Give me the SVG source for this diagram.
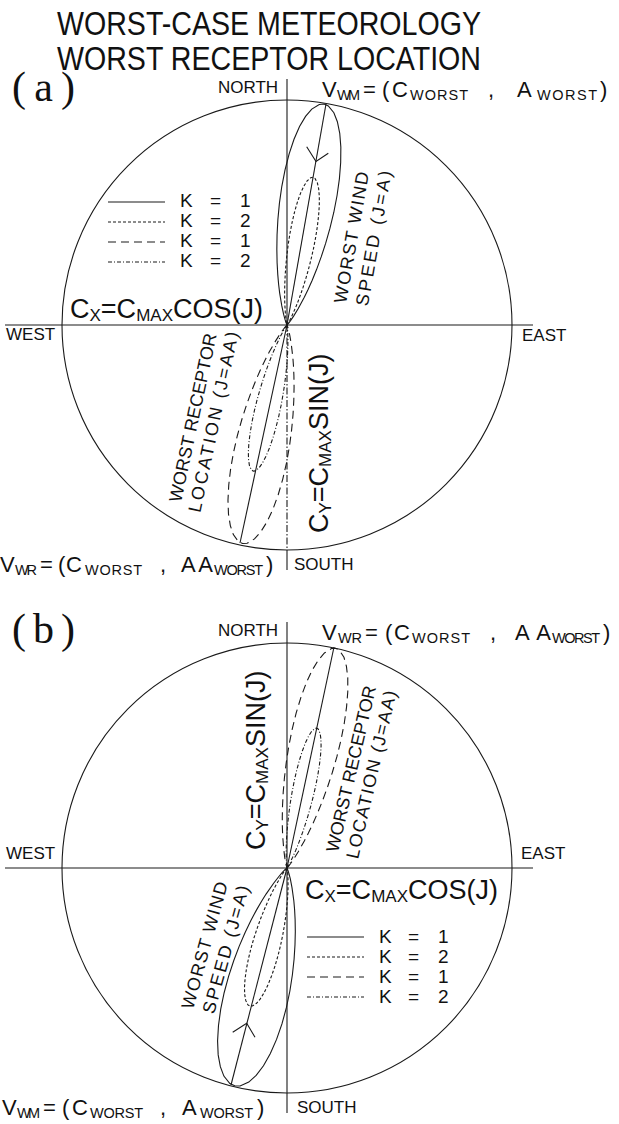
<svg xmlns="http://www.w3.org/2000/svg" width="619" height="1124" viewBox="0 0 619 1124">
<style>
.ln{stroke:#1a1a1a;stroke-width:1.1;fill:none}
.lobe{stroke:#1a1a1a;stroke-width:1.1;fill:none}
.k2w{stroke-dasharray:3 2}
.k1r{stroke-dasharray:8 5}
.k2r{stroke-dasharray:4 2 1 2}
.ax2{stroke-dasharray:7 2 1.5 2}
.t{font-family:"Liberation Sans",Arial,sans-serif;fill:#111}
.ttl{font-size:33.5px}
.pl{font-family:"Liberation Serif","Times New Roman",serif;font-size:42px;fill:#111}
.lbl{font-size:17px}
.rl{font-size:18px}
.big{font-size:27px}
.bs{font-size:17px}
.v{font-size:22px}
.vs{font-size:14.5px}
.lg{font-size:19px}
</style>
<defs>
<path id="lobe" vector-effect="non-scaling-stroke" d="M0,0 L5.5,-1.1 L10.3,-2.3 L18.1,-4.4 L29.5,-8 L44.6,-13.5 L53.3,-17.2 L62.4,-21.6 L71.6,-26.7 L80.3,-32.5 L88.1,-38.9 L94.3,-45.8 L98.5,-53.1 L100,-60.7 L98.4,-68.2 L93.3,-75.5 L84.8,-82.3 L72.8,-88.3 L57.6,-93.2 L40,-96.9 L16.4,-99.5 L0,-100 L-16.4,-99.5 L-40,-96.9 L-57.6,-93.2 L-72.8,-88.3 L-84.8,-82.3 L-93.3,-75.5 L-98.4,-68.2 L-100,-60.7 L-98.5,-53.1 L-94.3,-45.8 L-88.1,-38.9 L-80.3,-32.5 L-71.6,-26.7 L-62.4,-21.6 L-53.3,-17.2 L-44.6,-13.5 L-29.5,-8 L-18.1,-4.4 L-10.3,-2.3 L-5.5,-1.1 Z"/>
</defs>

<g id="title">
<text class="t ttl" x="57" y="35" textLength="424" lengthAdjust="spacingAndGlyphs">WORST-CASE METEOROLOGY</text>
<text class="t ttl" x="57" y="70" textLength="424" lengthAdjust="spacingAndGlyphs">WORST RECEPTOR LOCATION</text>
</g>

<g id="panel-a">
<text class="pl" x="12" y="101" textLength="63" lengthAdjust="spacing">(a)</text>
<g id="a-frame">
<circle class="ln" cx="287" cy="325" r="225"/>
<line class="ln" x1="5" y1="325" x2="533" y2="325"/>
<line class="ln" x1="287" y1="79" x2="287" y2="325"/>
<line class="ln ax2" x1="287" y1="325" x2="287" y2="550"/>
<line class="ln" x1="287" y1="550" x2="287" y2="570"/>
</g>
<g id="a-connectors">
<use href="#lobe" class="lobe" transform="translate(287,325) rotate(9.5) scale(0.28,2.24)"/>
<use href="#lobe" class="lobe k2w" transform="translate(287,325) rotate(10) scale(0.13,1.5)"/>
<use href="#lobe" class="lobe k1r" transform="translate(287,325) rotate(191.5) scale(0.27,2.23)"/>
<use href="#lobe" class="lobe k2r" transform="translate(287,325) rotate(193) scale(0.125,1.5)"/>
<line class="ln" x1="287" y1="325" x2="326" y2="104"/>
<line class="ln" x1="287" y1="325" x2="240" y2="543"/>
<polyline class="ln" points="306.7,146.7 316,161.5 328.3,153.3"/>
</g>
<g id="a-labels">
<text class="t lbl" x="218" y="93">NORTH</text>
<text class="t lbl" x="294" y="570">SOUTH</text>
<text class="t lbl" x="6" y="340">WEST</text>
<text class="t lbl" x="522" y="341">EAST</text>
<text class="t v"><tspan x="322" y="97">V</tspan><tspan class="vs" x="337" y="100" textLength="23">WM</tspan><tspan x="363" y="97">=</tspan><tspan x="382" y="97">(</tspan><tspan x="392" y="97">C</tspan><tspan class="vs" x="410" y="100" textLength="58">WORST</tspan><tspan x="488" y="97">,</tspan><tspan x="517" y="97">A</tspan><tspan class="vs" x="537" y="100" textLength="60">WORST</tspan><tspan x="600" y="97">)</tspan></text>
<text class="t v"><tspan x="0" y="572">V</tspan><tspan class="vs" x="15" y="575" textLength="22">WR</tspan><tspan x="40" y="572">=</tspan><tspan x="58" y="572">(</tspan><tspan x="66" y="572">C</tspan><tspan class="vs" x="85" y="575" textLength="57">WORST</tspan><tspan x="160" y="572">,</tspan><tspan x="181" y="572" textLength="32">AA</tspan><tspan class="vs" x="214" y="575" textLength="49">WORST</tspan><tspan x="266" y="572">)</tspan></text>
<text class="t big" x="70" y="318">C<tspan class="bs" dy="3">X</tspan><tspan dy="-3">=C</tspan><tspan class="bs" dy="3">MAX</tspan><tspan dy="-3">COS(J)</tspan></text>
<text class="t big" transform="translate(328,533) rotate(-90)" x="0" y="0">C<tspan class="bs" dy="3">Y</tspan><tspan dy="-3">=C</tspan><tspan class="bs" dy="3">MAX</tspan><tspan dy="-3">SIN(J)</tspan></text>
<g transform="translate(346,304) rotate(-80)">
<text class="t rl" x="0" y="0" textLength="133" lengthAdjust="spacing">WORST WIND</text>
<text class="t rl" x="1" y="22" textLength="137" lengthAdjust="spacing">SPEED (J=A)</text>
</g>
<g transform="translate(181,503) rotate(-78)">
<text class="t rl" x="0" y="0" textLength="172" lengthAdjust="spacing">WORST RECEPTOR</text>
<text class="t rl" x="-6" y="21" textLength="184" lengthAdjust="spacing">LOCATION (J=AA)</text>
</g>
</g>
<g id="a-legend">
<line class="ln" x1="108" y1="202" x2="165" y2="202"/>
<line class="ln k2w" x1="108" y1="222" x2="165" y2="222"/>
<line class="ln k1r" x1="108" y1="242" x2="165" y2="242"/>
<line class="ln k2r" x1="108" y1="262" x2="165" y2="262"/>
<text class="t lg"><tspan x="180" y="207">K</tspan><tspan x="210" y="207">=</tspan><tspan x="240" y="207">1</tspan></text>
<text class="t lg"><tspan x="180" y="227">K</tspan><tspan x="210" y="227">=</tspan><tspan x="240" y="227">2</tspan></text>
<text class="t lg"><tspan x="180" y="247">K</tspan><tspan x="210" y="247">=</tspan><tspan x="240" y="247">1</tspan></text>
<text class="t lg"><tspan x="180" y="267">K</tspan><tspan x="210" y="267">=</tspan><tspan x="240" y="267">2</tspan></text>
</g>
</g>

<g id="panel-b">
<text class="pl" x="12" y="643" textLength="63" lengthAdjust="spacing">(b)</text>
<g id="b-frame">
<circle class="ln" cx="287" cy="868" r="225"/>
<line class="ln" x1="5" y1="868" x2="533" y2="868"/>
<line class="ln" x1="287" y1="622" x2="287" y2="1113"/>
</g>
<g id="b-connectors">
<use href="#lobe" class="lobe k1r" transform="translate(287,868) rotate(12.5) scale(0.25,2.25)"/>
<use href="#lobe" class="lobe k2r" transform="translate(287,868) rotate(12) scale(0.11,1.43)"/>
<use href="#lobe" class="lobe" transform="translate(287,868) rotate(193.5) scale(0.32,2.24)"/>
<use href="#lobe" class="lobe k2w" transform="translate(287,868) rotate(195) scale(0.14,1.43)"/>
<line class="ln" x1="287" y1="868" x2="334" y2="647"/>
<line class="ln" x1="287" y1="868" x2="231" y2="1085"/>
<polyline class="ln" points="232.7,1032.3 246.7,1023.3 255,1037.3"/>
</g>
<g id="b-labels">
<text class="t lbl" x="218" y="636">NORTH</text>
<text class="t lbl" x="297" y="1113">SOUTH</text>
<text class="t lbl" x="6" y="859">WEST</text>
<text class="t lbl" x="521" y="859">EAST</text>
<text class="t v"><tspan x="322" y="640">V</tspan><tspan class="vs" x="338" y="643" textLength="24">WR</tspan><tspan x="365" y="640">=</tspan><tspan x="385" y="640">(</tspan><tspan x="394" y="640">C</tspan><tspan class="vs" x="412" y="643" textLength="58">WORST</tspan><tspan x="490" y="640">,</tspan><tspan x="515" y="640" textLength="36">AA</tspan><tspan class="vs" x="552" y="643" textLength="48">WORST</tspan><tspan x="603" y="640">)</tspan></text>
<text class="t v"><tspan x="2" y="1115">V</tspan><tspan class="vs" x="17" y="1118" textLength="23">WM</tspan><tspan x="43" y="1115">=</tspan><tspan x="62" y="1115">(</tspan><tspan x="72" y="1115">C</tspan><tspan class="vs" x="90" y="1118" textLength="53">WORST</tspan><tspan x="160" y="1115">,</tspan><tspan x="182" y="1115">A</tspan><tspan class="vs" x="200" y="1118" textLength="53">WORST</tspan><tspan x="257" y="1115">)</tspan></text>
<text class="t big" x="305" y="899">C<tspan class="bs" dy="3">X</tspan><tspan dy="-3">=C</tspan><tspan class="bs" dy="3">MAX</tspan><tspan dy="-3">COS(J)</tspan></text>
<text class="t big" transform="translate(265,850) rotate(-90)" x="0" y="0">C<tspan class="bs" dy="3">Y</tspan><tspan dy="-3">=C</tspan><tspan class="bs" dy="3">MAX</tspan><tspan dy="-3">SIN(J)</tspan></text>
<g transform="translate(338,853) rotate(-77)">
<text class="t rl" x="0" y="0" textLength="170" lengthAdjust="spacing">WORST RECEPTOR</text>
<text class="t rl" x="-2" y="21" textLength="172" lengthAdjust="spacing">LOCATION (J=AA)</text>
</g>
<g transform="translate(193,1010) rotate(-74.5)">
<text class="t rl" x="0" y="0" textLength="131" lengthAdjust="spacing">WORST WIND</text>
<text class="t rl" x="1" y="21.5" textLength="132" lengthAdjust="spacing">SPEED (J=A)</text>
</g>
</g>
<g id="b-legend">
<line class="ln" x1="307" y1="937" x2="364" y2="937"/>
<line class="ln k2w" x1="307" y1="957" x2="364" y2="957"/>
<line class="ln k1r" x1="307" y1="977" x2="364" y2="977"/>
<line class="ln k2r" x1="307" y1="997" x2="364" y2="997"/>
<text class="t lg"><tspan x="379" y="943">K</tspan><tspan x="408" y="943">=</tspan><tspan x="438" y="943">1</tspan></text>
<text class="t lg"><tspan x="379" y="963">K</tspan><tspan x="408" y="963">=</tspan><tspan x="438" y="963">2</tspan></text>
<text class="t lg"><tspan x="379" y="983">K</tspan><tspan x="408" y="983">=</tspan><tspan x="438" y="983">1</tspan></text>
<text class="t lg"><tspan x="379" y="1003">K</tspan><tspan x="408" y="1003">=</tspan><tspan x="438" y="1003">2</tspan></text>
</g>
</g>
</svg>
